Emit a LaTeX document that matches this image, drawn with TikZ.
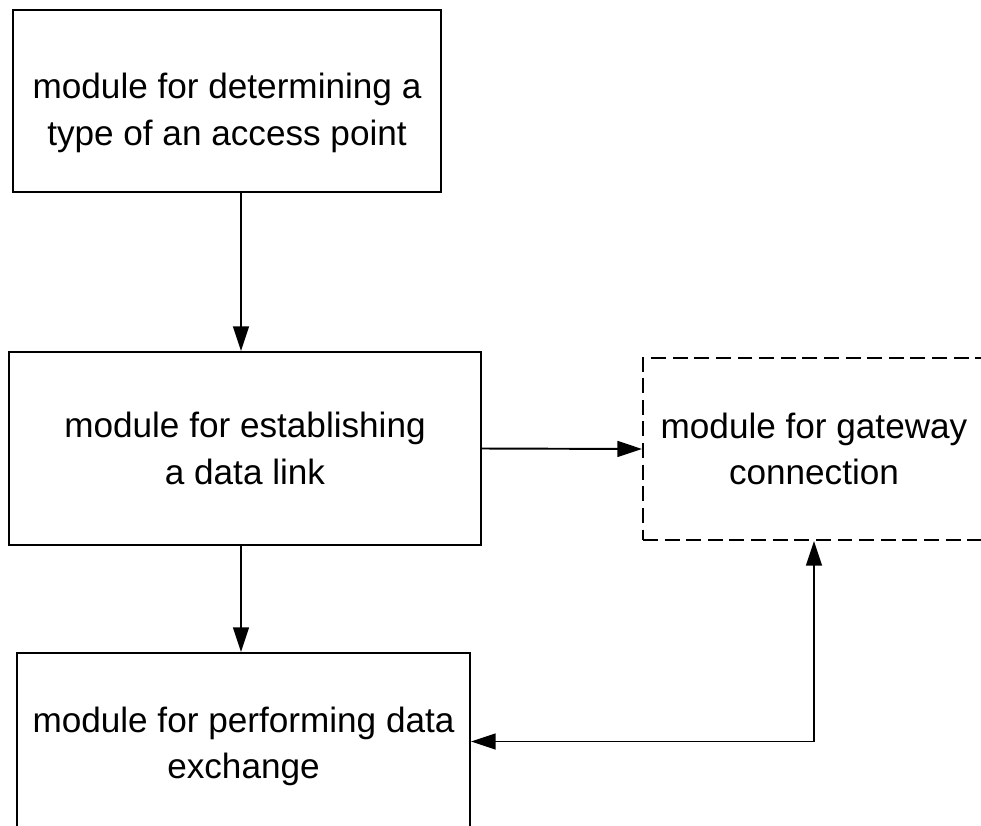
\documentclass[tikz,border=0pt]{standalone}
\usepackage{fontspec}
\setmainfont{Liberation Sans}
\usetikzlibrary{arrows.meta}

\begin{document}
\begin{tikzpicture}[
		box/.style={draw, line width=1.1pt, align=center, inner sep=0pt,
			font=\fontsize{20}{26.5}\selectfont},
		arr/.style={line width=1.1pt, -{Triangle[length=14pt,width=9pt]}},
	]
		\useasboundingbox (0,0) rectangle (19.62,-16.5);
		\clip (0,0) rectangle (19.62,-16.5);

		\node [box, minimum width=8.56cm, minimum height=3.64cm] (type) at (4.54,-2.02)
			{\rule{0pt}{28pt}module for determining a\\type of an access point};
		\node [box, minimum width=9.44cm, minimum height=3.86cm] (link) at (4.90,-8.97)
			{module for establishing\\a data link};
		\node [box, dash pattern=on 8.5pt off 3.8pt, minimum width=6.84cm, minimum height=3.64cm] (gate) at (16.28,-8.98)
			{module for gateway\\connection};
		\node [box, minimum width=9.06cm, minimum height=3.54cm] (exch) at (4.87,-14.83)
			{\rule{0pt}{20pt}module for performing data\\exchange};

		\coordinate (mid) at (4.82,0);

		\draw [arr] (mid |- type.south) -- (mid |- link.north);
		\draw [arr] (mid |- link.south) -- (mid |- exch.north);
		\draw [arr] (link.east) -- (gate.west);
		\draw [arr, {Triangle[length=14pt,width=9pt]}-{Triangle[length=14pt,width=9pt]}] (gate.south) |- (exch.east);
	\end{tikzpicture}
\end{document}
